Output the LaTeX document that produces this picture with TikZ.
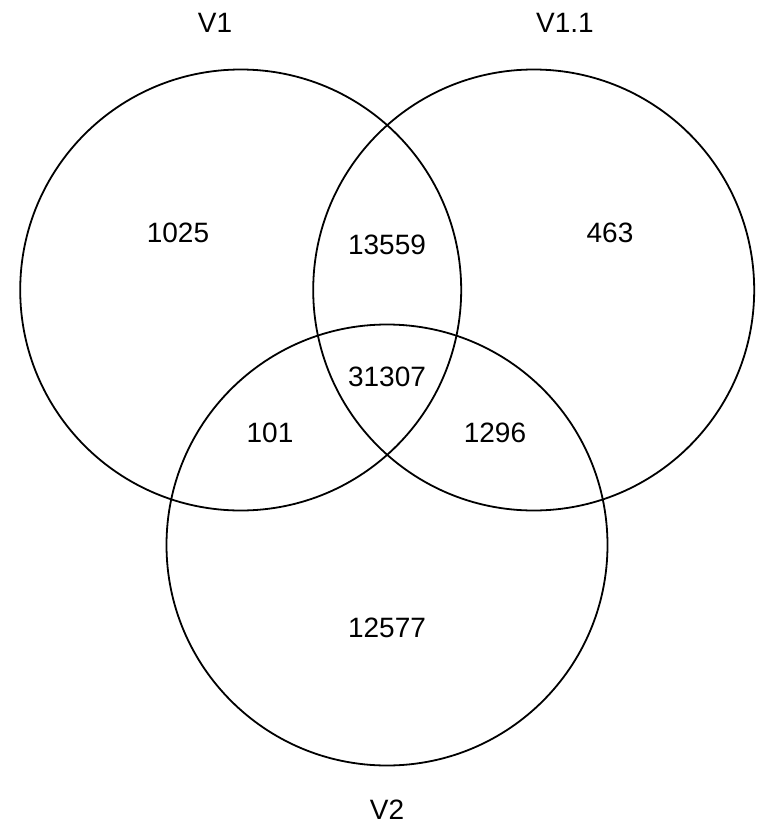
\documentclass[tikz,border=0pt]{standalone}
\usepackage{fontspec}
\setmainfont{Liberation Sans}
\begin{document}
\begin{tikzpicture}[x=1pt,y=-1pt,
  setcircle/.style={draw=black,line width=1.8pt},
  lbl/.style={font=\fontsize{28}{32}\selectfont,inner sep=0pt,anchor=center}]
\useasboundingbox (0,0) rectangle (760,833);
\node[setcircle,circle,minimum size=441pt,inner sep=0pt] (c1) at (240.7,290) {};
\node[setcircle,circle,minimum size=441pt,inner sep=0pt] (c2) at (533.7,290) {};
\node[setcircle,circle,minimum size=441pt,inner sep=0pt] (c3) at (387,545) {};
\node[lbl] (n1) at (215,23) {V1};
\node[lbl] (n2) at (565,23) {V1.1};
\node[lbl] (n3) at (387,810) {V2};
\node[lbl] (a) at (178,233) {1025};
\node[lbl] (b) at (387,245) {13559};
\node[lbl] (c) at (610,233) {463};
\node[lbl] (d) at (387,377) {31307};
\node[lbl] (e) at (270,433) {101};
\node[lbl] (f) at (495,433) {1296};
\node[lbl] (g) at (387,628) {12577};
\end{tikzpicture}
\end{document}
